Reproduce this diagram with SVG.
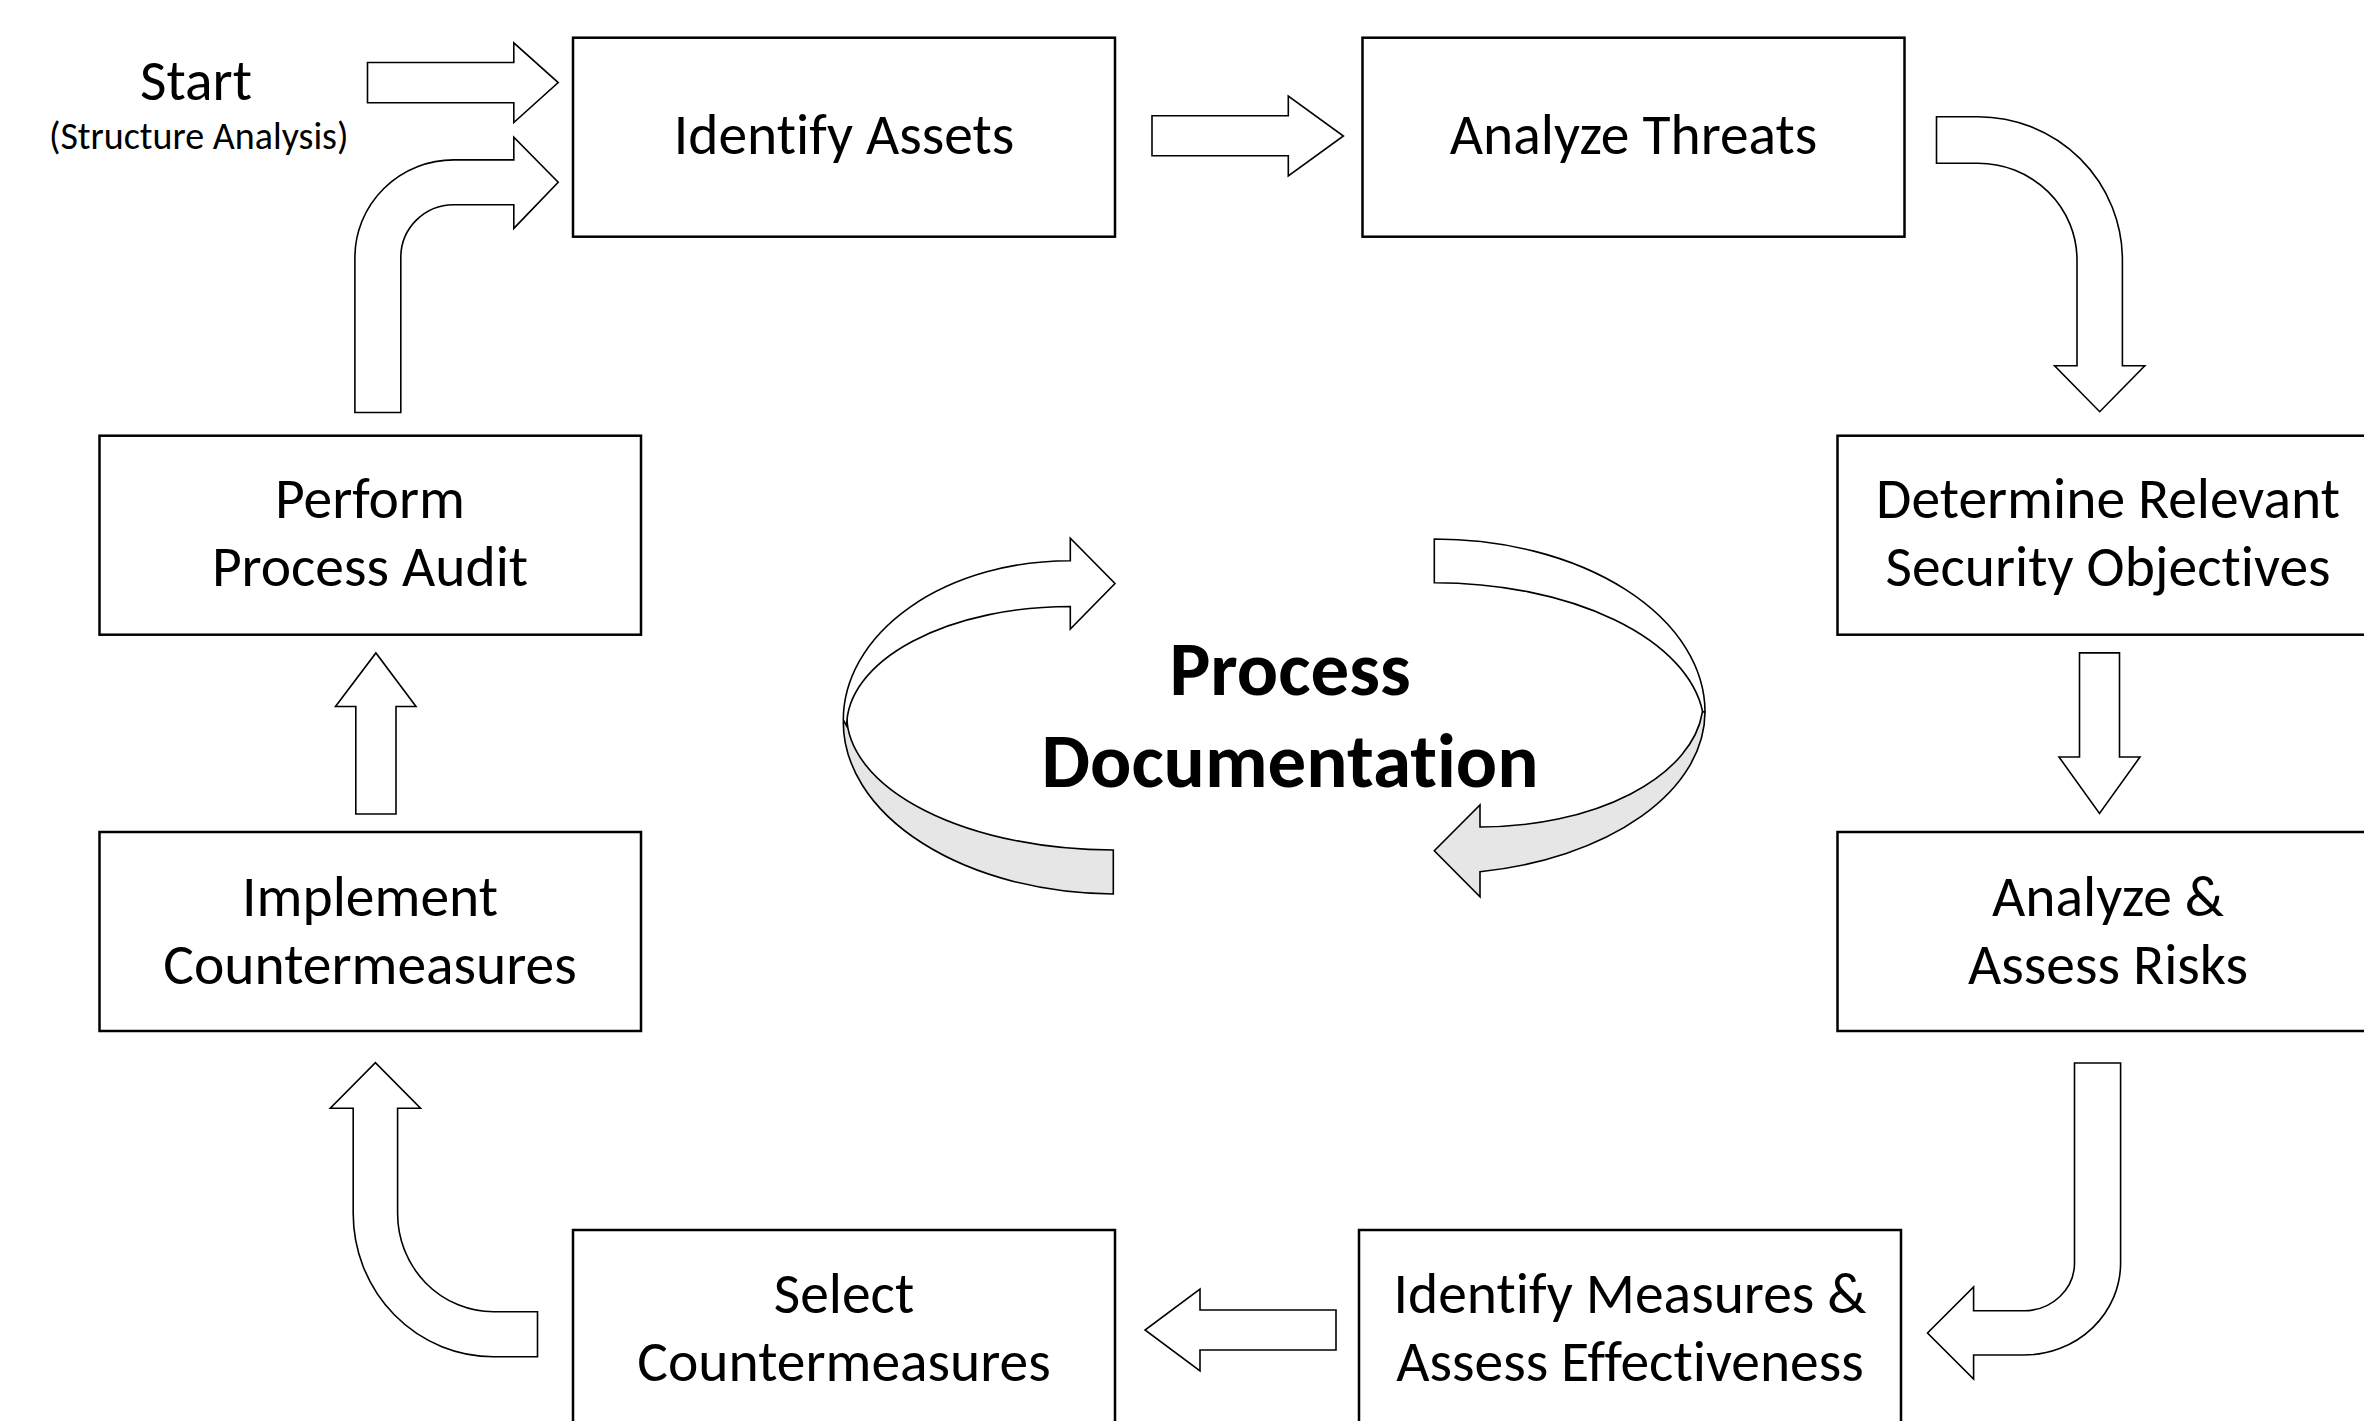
<svg xmlns="http://www.w3.org/2000/svg" width="2364" height="1421" viewBox="0 0 2364 1421">
<style>
.box{fill:#fff;stroke:#000;stroke-width:2.5}
.arr{fill:#fff;stroke:#000;stroke-width:1.6;stroke-linejoin:miter}
.gray{fill:#e6e6e6;stroke:#000;stroke-width:1.6}
.t{font-family:Carlito,Calibri,Lato,"Liberation Sans",sans-serif;font-size:57.5px;fill:#000;text-anchor:middle;font-variant-ligatures:none;font-feature-settings:"liga" 0,"clig" 0}
.small{font-size:38px}
.bold{font-weight:bold;font-size:77px}
</style>
<rect width="2364" height="1421" fill="#fff"/>
<g id="connectors">
<path class="arr" d="M367.5,62.5 L513.8,62.5 L513.8,42.8 L558.2,82.6 L513.8,122.5 L513.8,102.7 L367.5,102.7 Z"/>
<path class="arr" d="M354.9,412.5 L354.9,257.5 A98.8,97.6 0 0 1 453.7,159.9 L513.8,159.9 L513.8,137.1 L558.2,182.3 L513.8,228.4 L513.8,204.7 L453.7,204.7 A52.9,52.8 0 0 0 400.8,257.5 L400.8,412.5 Z"/>
<path class="arr" d="M1152,115.7 L1288.3,115.7 L1288.3,96 L1343.4,136 L1288.3,176 L1288.3,155.7 L1152,155.7 Z"/>
<path class="arr" d="M1936.5,116.7 L1978,116.7 A144.4,143.3 0 0 1 2122.4,260 L2122.4,365.7 L2144.8,365.7 L2099.7,411.7 L2054.6,365.7 L2077,365.7 L2077,260 A99,96.7 0 0 0 1978,163.3 L1936.5,163.3 Z"/>
<path class="arr" d="M2079.5,652.9 L2119.5,652.9 L2119.5,757 L2140,757 L2099.5,813.5 L2059,757 L2079.5,757 Z"/>
<path class="arr" d="M2074.5,1063 L2120.6,1063 L2120.6,1263 A96.6,92 0 0 1 2024,1355 L1973.6,1355 L1973.6,1379 L1927.5,1333 L1973.6,1287 L1973.6,1310.7 L2024,1310.7 A50.5,47.7 0 0 0 2074.5,1263 Z"/>
<path class="arr" d="M1336,1310 L1336,1350 L1200,1350 L1200,1371 L1145,1330 L1200,1289 L1200,1310 Z"/>
<path class="arr" d="M537.5,1311.7 L537.5,1356.7 L493.5,1356.7 A140.3,143.2 0 0 1 353.2,1213.5 L353.2,1108.3 L330.3,1108.3 L375.4,1062.7 L420.5,1108.3 L397.6,1108.3 L397.6,1213.5 A95.9,98.2 0 0 0 493.5,1311.7 Z"/>
<path class="arr" d="M355.8,814 L355.8,706.5 L335.5,706.5 L375.9,652.9 L416,706.5 L396,706.5 L396,814 Z"/>
</g>
<g id="cycle-left">
<path class="gray" d="M846.7,715 A266.6,135 0 0 0 1113.3,850 L1113.3,894 A272.7,172 0 0 1 843.3,722 Z"/>
<path class="arr" d="M1070.3,560.7 A226.7,159.3 0 0 0 843.3,720 L846.7,726 A223.3,119.5 0 0 1 1070.3,606.5 L1070.3,629 L1115,583.5 L1070.3,538.3 Z"/>
</g>
<g id="cycle-right">
<path class="arr" d="M1434.3,539 A270.7,173 0 0 1 1705,712 L1702.7,712 A270,145.3 0 0 0 1434.3,582.7 Z"/>
<path class="gray" d="M1702.4,712 A223.3,126.3 0 0 1 1480,827 L1480,805 L1434.3,850.7 L1480,896.7 L1480,871.7 A270.7,162 0 0 0 1705,712 Z"/>
</g>
<g id="start">
<text class="t" x="196" y="100">Start</text>
<text class="t small" x="198.7" y="149">(Structure Analysis)</text>
</g>
<g id="identify-assets">
<rect class="box" x="573" y="37.7" width="542" height="199"/>
<text class="t" x="844" y="154">Identify Assets</text>
</g>
<g id="analyze-threats">
<rect class="box" x="1362.5" y="37.7" width="542" height="199"/>
<text class="t" x="1633.5" y="154">Analyze Threats</text>
</g>
<g id="determine-objectives">
<rect class="box" x="1837.5" y="435.7" width="542" height="199"/>
<text class="t" x="2108" y="518">Determine Relevant</text>
<text class="t" x="2108" y="586">Security Objectives</text>
</g>
<g id="assess-risks">
<rect class="box" x="1837.5" y="832" width="542" height="199"/>
<text class="t" x="2108" y="916">Analyze &amp;</text>
<text class="t" x="2108" y="984">Assess Risks</text>
</g>
<g id="identify-measures">
<rect class="box" x="1359" y="1230" width="542" height="199"/>
<text class="t" x="1630" y="1313">Identify Measures &amp;</text>
<text class="t" x="1630" y="1381">Assess Effectiveness</text>
</g>
<g id="select-countermeasures">
<rect class="box" x="573" y="1230" width="542" height="199"/>
<text class="t" x="844" y="1313">Select</text>
<text class="t" x="844" y="1381">Countermeasures</text>
</g>
<g id="implement-countermeasures">
<rect class="box" x="99.5" y="832" width="541.5" height="199"/>
<text class="t" x="370" y="916">Implement</text>
<text class="t" x="370" y="984">Countermeasures</text>
</g>
<g id="process-audit">
<rect class="box" x="99.5" y="435.7" width="541.5" height="199"/>
<text class="t" x="370" y="518">Perform</text>
<text class="t" x="370" y="586">Process Audit</text>
</g>
<g id="process-documentation">
<text class="t bold" x="1290" y="695">Process</text>
<text class="t bold" x="1290" y="787">Documentation</text>
</g>
</svg>
